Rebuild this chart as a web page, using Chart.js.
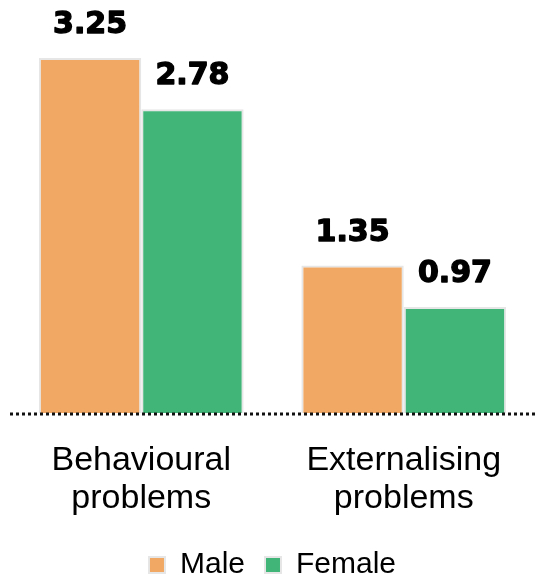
<!DOCTYPE html>
<html lang="en">
<head>
  <meta charset="UTF-8" />
  <title>Behavioural and externalising problems by sex</title>
  <script src="https://cdn.jsdelivr.net/npm/chart.js"></script>
  <style>
    html, body { margin: 0; padding: 0; background: #fff; }
    #wrap { width: 538px; height: 579px; }
  </style>
</head>
<body>
  <div id="wrap"><canvas id="chart"></canvas></div>

  <script>
    const categories = [['Behavioural', 'problems'], ['Externalising', 'problems']];
    const maleValues = [3.25, 1.35];
    const femaleValues = [2.78, 0.97];

    // value labels above each bar + dotted baseline
    const valueLabels = {
      id: 'valueLabels',
      afterDatasetsDraw(chart) {
        const ctx = chart.ctx;
        const base = chart.scales.y.getPixelForValue(0);
        ctx.save();
        ctx.strokeStyle = '#111';
        ctx.lineWidth = 3;
        ctx.setLineDash([3, 3]);
        ctx.beginPath();
        ctx.moveTo(10, base + 1);
        ctx.lineTo(536, base + 1);
        ctx.stroke();
        ctx.setLineDash([]);

        ctx.font = 'bold 30px "DejaVu Sans"';
        ctx.fillStyle = '#000';
        ctx.strokeStyle = '#000';
        ctx.lineWidth = 1.4;
        ctx.lineJoin = 'round';
        ctx.textAlign = 'center';
        ctx.textBaseline = 'alphabetic';
        chart.data.datasets.forEach((ds, i) => {
          chart.getDatasetMeta(i).data.forEach((bar, j) => {
            const txt = ds.data[j].toFixed(2);
            ctx.fillText(txt, bar.x, bar.y - 25);
            ctx.strokeText(txt, bar.x, bar.y - 25);
          });
        });
        ctx.restore();
      }
    };

    new Chart(document.getElementById('chart'), {
      type: 'bar',
      data: {
        labels: categories,
        datasets: [
          { label: 'Male', data: maleValues, backgroundColor: '#f0a864', borderColor: '#e6e6e6', borderWidth: 2 },
          { label: 'Female', data: femaleValues, backgroundColor: '#41b577', borderColor: '#e6e6e6', borderWidth: 2 }
        ]
      },
      options: {
        responsive: true,
        maintainAspectRatio: false,
        animation: false,
        layout: { padding: { left: 10, right: 3, top: 0, bottom: -11 } },
        datasets: { bar: { barPercentage: 1, categoryPercentage: 0.78 } },
        scales: {
          x: {
            grid: { display: false, drawTicks: false },
            border: { display: false },
            ticks: { color: '#000', padding: 29, font: { family: 'Liberation Sans', size: 34, lineHeight: 1.12 } },
            afterFit(scale) { scale.height = 117; }
          },
          y: { display: false, min: 0, max: 3.78 }
        },
        plugins: {
          legend: {
            position: 'bottom',
            labels: {
              color: '#000',
              boxWidth: 16,
              boxHeight: 16,
              padding: 20,
              font: { family: 'Liberation Sans', size: 30 }
            }
          },
          tooltip: { enabled: false }
        }
      },
      plugins: [valueLabels]
    });
  </script>
</body>
</html>
